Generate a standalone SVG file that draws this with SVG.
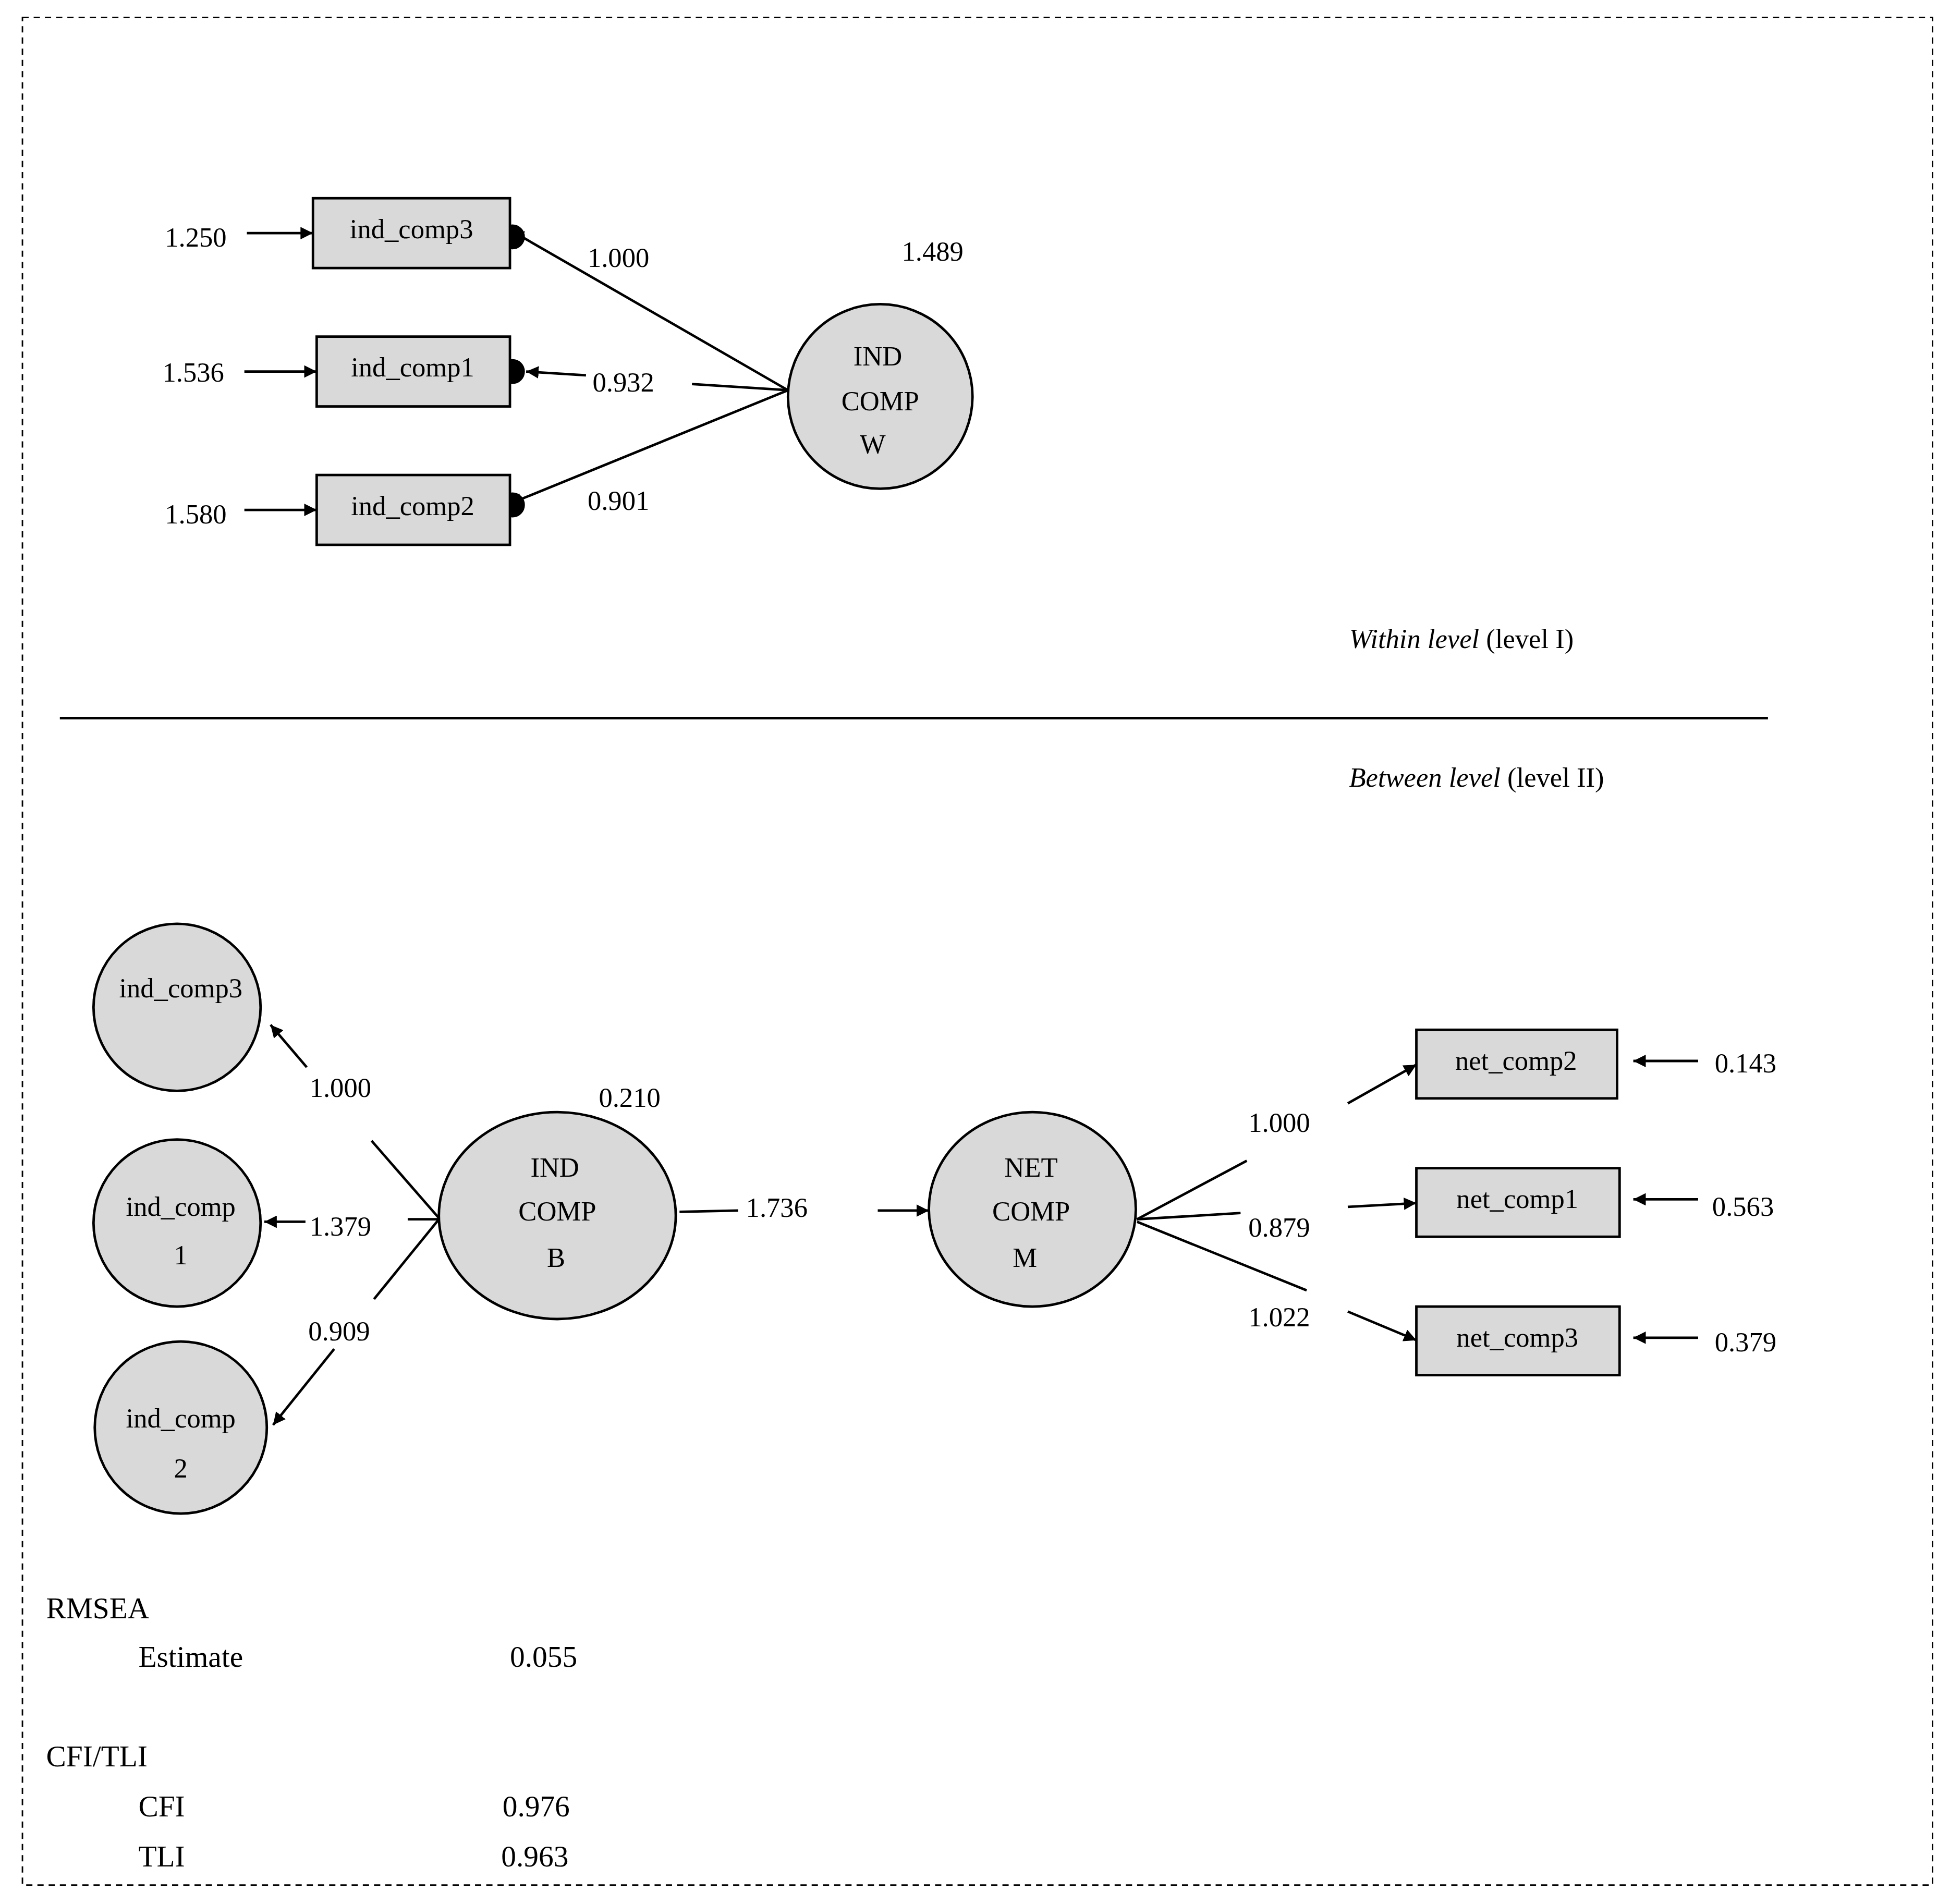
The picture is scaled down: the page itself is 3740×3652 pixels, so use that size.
<svg xmlns="http://www.w3.org/2000/svg" width="3740" height="3652" viewBox="0 0 3740 3652">
<style>
.t{font-family:"Liberation Serif",serif;font-size:22px;fill:#000}
.c{text-anchor:middle}
.s{stroke:#000;stroke-width:2;fill:none}
.n{fill:#d9d9d9;stroke:#000;stroke-width:2}
</style>
<defs>
<marker id="a" viewBox="0 0 10 10" refX="10" refY="5" markerWidth="10" markerHeight="10" markerUnits="userSpaceOnUse" orient="auto"><path d="M0,0L10,5L0,10z" fill="#000"/></marker>
</defs>
<rect width="3740" height="3652" fill="#fff"/>
<g transform="scale(2.3913)">
<rect x="18" y="14" width="1532" height="1498" fill="none" stroke="#000" stroke-width="1.2" stroke-dasharray="5,4"/>
<g id="connectors" class="s" style="marker-end:none">
<line x1="198" y1="187" x2="251" y2="187" marker-end="url(#a)" style="--m:0"/>
<line x1="196" y1="298" x2="254" y2="298" marker-end="url(#a)"/>
<line x1="196" y1="409" x2="254" y2="409" marker-end="url(#a)"/>
<line x1="632" y1="313" x2="410" y2="185" marker-end="url(#a)"/>
<line x1="632" y1="313" x2="555" y2="308"/>
<line x1="470" y1="301" x2="422" y2="298" marker-end="url(#a)"/>
<line x1="632" y1="313" x2="409" y2="404" marker-end="url(#a)"/>
<line x1="48" y1="576" x2="1418" y2="576"/>
<line x1="352" y1="977" x2="298" y2="915"/>
<line x1="246" y1="856" x2="217" y2="822" marker-end="url(#a)"/>
<line x1="352" y1="978" x2="327" y2="978"/>
<line x1="245" y1="980" x2="212" y2="980" marker-end="url(#a)"/>
<line x1="352" y1="978" x2="300" y2="1042"/>
<line x1="268" y1="1082" x2="219" y2="1143" marker-end="url(#a)"/>
<line x1="545" y1="972" x2="592" y2="971"/>
<line x1="704" y1="971" x2="745" y2="971" marker-end="url(#a)"/>
<line x1="912" y1="978" x2="1000" y2="931"/>
<line x1="1081" y1="885" x2="1136" y2="854" marker-end="url(#a)"/>
<line x1="912" y1="978" x2="995" y2="973"/>
<line x1="1081" y1="968" x2="1136" y2="965" marker-end="url(#a)"/>
<line x1="912" y1="980" x2="1048" y2="1035"/>
<line x1="1081" y1="1052" x2="1136" y2="1075" marker-end="url(#a)"/>
<line x1="1362" y1="851" x2="1310" y2="851" marker-end="url(#a)"/>
<line x1="1362" y1="962" x2="1310" y2="962" marker-end="url(#a)"/>
<line x1="1362" y1="1073" x2="1310" y2="1073" marker-end="url(#a)"/>
<circle cx="411" cy="190" r="9" fill="#000"/>
<circle cx="411" cy="298" r="9" fill="#000"/>
<circle cx="411" cy="405" r="9" fill="#000"/>
</g>
<g id="w3"><rect class="n" x="251" y="159" width="158" height="56"/><text class="t c" x="330" y="191">ind_comp3</text></g>
<g id="w1"><rect class="n" x="254" y="270" width="155" height="56"/><text class="t c" x="331" y="302">ind_comp1</text></g>
<g id="w2"><rect class="n" x="254" y="381" width="155" height="56"/><text class="t c" x="331" y="413">ind_comp2</text></g>
<g id="indw"><circle class="n" cx="706" cy="318" r="74"/><text class="t c" x="704" y="293">IND</text><text class="t c" x="706" y="329">COMP</text><text class="t c" x="700" y="364">W</text></g>
<g id="b3"><circle class="n" cx="142" cy="808" r="67"/><text class="t c" x="145" y="800">ind_comp3</text></g>
<g id="b1"><circle class="n" cx="142" cy="981" r="67"/><text class="t c" x="145" y="975">ind_comp</text><text class="t c" x="145" y="1014">1</text></g>
<g id="b2"><circle class="n" cx="145" cy="1145" r="69"/><text class="t c" x="145" y="1145">ind_comp</text><text class="t c" x="145" y="1185">2</text></g>
<g id="indb"><ellipse class="n" cx="447" cy="975" rx="95" ry="83"/><text class="t c" x="445" y="944">IND</text><text class="t c" x="447" y="979">COMP</text><text class="t c" x="446" y="1016">B</text></g>
<g id="netm"><ellipse class="n" cx="828" cy="970" rx="83" ry="78"/><text class="t c" x="827" y="944">NET</text><text class="t c" x="827" y="979">COMP</text><text class="t c" x="822" y="1016">M</text></g>
<g id="n2"><rect class="n" x="1136" y="826" width="161" height="55"/><text class="t c" x="1216" y="858">net_comp2</text></g>
<g id="n1"><rect class="n" x="1136" y="937" width="163" height="55"/><text class="t c" x="1217" y="969">net_comp1</text></g>
<g id="n3"><rect class="n" x="1136" y="1048" width="163" height="55"/><text class="t c" x="1217" y="1080">net_comp3</text></g>
<g id="labels" class="t">
<text class="c" x="157" y="198">1.250</text>
<text class="c" x="155" y="306">1.536</text>
<text class="c" x="157" y="420">1.580</text>
<text class="c" x="748" y="209">1.489</text>
<text class="c" x="496" y="214">1.000</text>
<text class="c" x="500" y="314">0.932</text>
<text class="c" x="496" y="409">0.901</text>
<text x="1082" y="520"><tspan font-style="italic">Within level</tspan> (level I)</text>
<text x="1082" y="631"><tspan font-style="italic">Between level</tspan> (level II)</text>
<text class="c" x="505" y="888">0.210</text>
<text class="c" x="273" y="880">1.000</text>
<text class="c" x="273" y="991">1.379</text>
<text class="c" x="272" y="1075">0.909</text>
<text class="c" x="623" y="976">1.736</text>
<text class="c" x="1026" y="908">1.000</text>
<text class="c" x="1026" y="992">0.879</text>
<text class="c" x="1026" y="1064">1.022</text>
<text class="c" x="1400" y="860">0.143</text>
<text class="c" x="1398" y="975">0.563</text>
<text class="c" x="1400" y="1084">0.379</text>
<text x="37" y="1298" font-size="24">RMSEA</text>
<text x="111" y="1337" font-size="24">Estimate</text>
<text class="c" x="436" y="1337" font-size="24">0.055</text>
<text x="37" y="1417" font-size="24">CFI/TLI</text>
<text x="111" y="1457" font-size="24">CFI</text>
<text class="c" x="430" y="1457" font-size="24">0.976</text>
<text x="111" y="1497" font-size="24">TLI</text>
<text class="c" x="429" y="1497" font-size="24">0.963</text>
</g>
</g>
</svg>
